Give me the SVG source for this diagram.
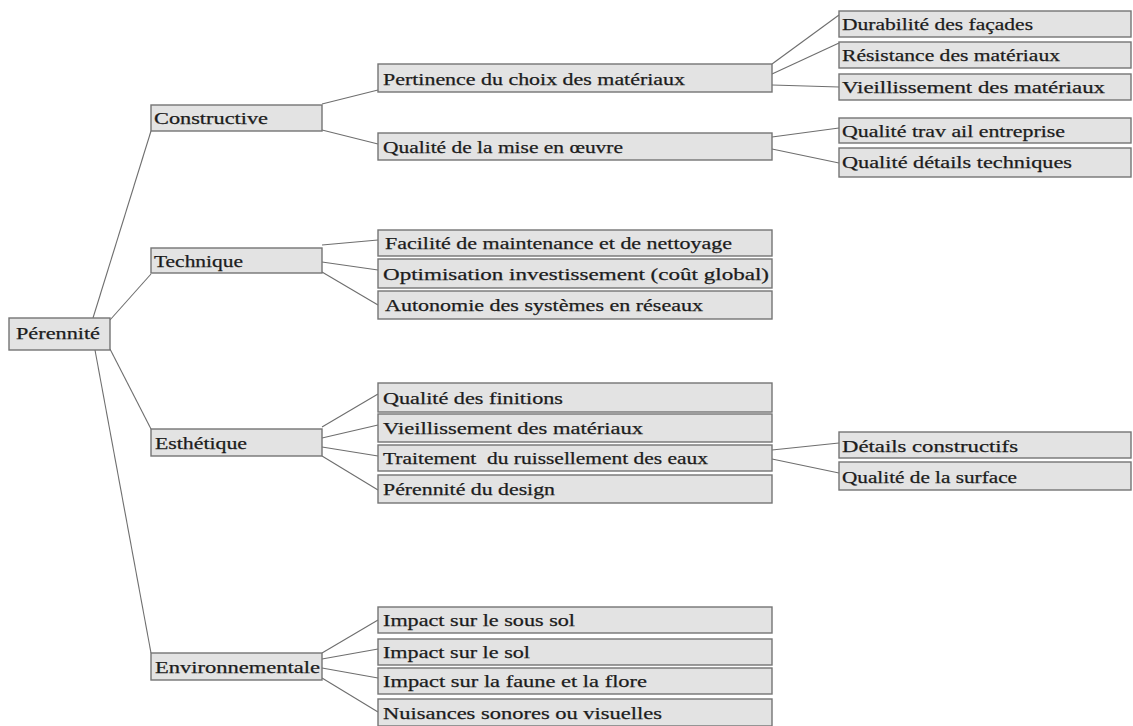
<svg xmlns="http://www.w3.org/2000/svg" width="1133" height="726" viewBox="0 0 1133 726">
<style>
.box{fill:#e3e3e3;stroke:#747474;stroke-width:1.4}
.t{font-family:"Liberation Serif","Times New Roman",serif;font-size:17px;fill:#1c1c1c;stroke:#1c1c1c;stroke-width:0.25;white-space:pre}
.c line{stroke:#6e6e6e;stroke-width:1.1}
</style>
<rect width="1133" height="726" fill="#ffffff"/>
<g class="c" id="connectors">
<line x1="93" y1="318" x2="151" y2="131"/>
<line x1="110" y1="320" x2="151" y2="274"/>
<line x1="110" y1="349" x2="151" y2="429"/>
<line x1="95" y1="350" x2="151" y2="653"/>
<line x1="322" y1="104" x2="378" y2="90"/>
<line x1="322" y1="130" x2="378" y2="144"/>
<line x1="322" y1="245" x2="378" y2="240"/>
<line x1="322" y1="262" x2="378" y2="270"/>
<line x1="322" y1="272" x2="378" y2="305"/>
<line x1="322" y1="427" x2="378" y2="394"/>
<line x1="322" y1="438" x2="378" y2="425"/>
<line x1="322" y1="447" x2="378" y2="456"/>
<line x1="322" y1="456" x2="378" y2="490"/>
<line x1="322" y1="653" x2="378" y2="620"/>
<line x1="322" y1="659" x2="378" y2="649"/>
<line x1="322" y1="668" x2="378" y2="678"/>
<line x1="322" y1="678" x2="378" y2="712"/>
<line x1="772" y1="64" x2="839" y2="15"/>
<line x1="772" y1="74" x2="839" y2="43"/>
<line x1="772" y1="85" x2="839" y2="87"/>
<line x1="772" y1="137" x2="839" y2="128"/>
<line x1="772" y1="149" x2="839" y2="163"/>
<line x1="772" y1="450" x2="839" y2="443"/>
<line x1="772" y1="459" x2="839" y2="473"/>
</g>
<g id="n-perennite"><rect class="box" x="9" y="318" width="101" height="32"/><text class="t" x="16" y="339" textLength="84" lengthAdjust="spacingAndGlyphs">Pérennité</text></g>
<g id="n-constructive"><rect class="box" x="151" y="105" width="171" height="26"/><text class="t" x="154" y="124" textLength="114" lengthAdjust="spacingAndGlyphs">Constructive</text></g>
<g id="n-technique"><rect class="box" x="151" y="248" width="171" height="25"/><text class="t" x="154" y="267" textLength="89" lengthAdjust="spacingAndGlyphs">Technique</text></g>
<g id="n-esthetique"><rect class="box" x="151" y="429" width="171" height="27"/><text class="t" x="155" y="449" textLength="92" lengthAdjust="spacingAndGlyphs">Esthétique</text></g>
<g id="n-environnementale"><rect class="box" x="151" y="653" width="171" height="27"/><text class="t" x="155" y="673" textLength="165" lengthAdjust="spacingAndGlyphs">Environnementale</text></g>
<g id="n-pertinence"><rect class="box" x="378" y="64" width="394" height="28"/><text class="t" x="383" y="85" textLength="302" lengthAdjust="spacingAndGlyphs">Pertinence du choix des matériaux</text></g>
<g id="n-miseenoeuvre"><rect class="box" x="378" y="133" width="394" height="27"/><text class="t" x="383" y="153" textLength="240" lengthAdjust="spacingAndGlyphs">Qualité de la mise en œuvre</text></g>
<g id="n-facilite"><rect class="box" x="378" y="230" width="394" height="26"/><text class="t" x="385" y="249" textLength="347" lengthAdjust="spacingAndGlyphs">Facilité de maintenance et de nettoyage</text></g>
<g id="n-optimisation"><rect class="box" x="378" y="259" width="394" height="29"/><text class="t" x="383" y="280" textLength="386" lengthAdjust="spacingAndGlyphs">Optimisation investissement (coût global)</text></g>
<g id="n-autonomie"><rect class="box" x="378" y="291" width="394" height="28"/><text class="t" x="385" y="311" textLength="318" lengthAdjust="spacingAndGlyphs">Autonomie des systèmes en réseaux</text></g>
<g id="n-finitions"><rect class="box" x="378" y="383" width="394" height="29"/><text class="t" x="383" y="404" textLength="180" lengthAdjust="spacingAndGlyphs">Qualité des finitions</text></g>
<g id="n-vieil2"><rect class="box" x="378" y="414" width="394" height="28"/><text class="t" x="383" y="434" textLength="260" lengthAdjust="spacingAndGlyphs">Vieillissement des matériaux</text></g>
<g id="n-traitement"><rect class="box" x="378" y="445" width="394" height="26"/><text class="t" x="383" y="464" textLength="325" lengthAdjust="spacingAndGlyphs">Traitement  du ruissellement des eaux</text></g>
<g id="n-design"><rect class="box" x="378" y="475" width="394" height="28"/><text class="t" x="383" y="495" textLength="172" lengthAdjust="spacingAndGlyphs">Pérennité du design</text></g>
<g id="n-soussol"><rect class="box" x="378" y="607" width="394" height="26"/><text class="t" x="383" y="626" textLength="192" lengthAdjust="spacingAndGlyphs">Impact sur le sous sol</text></g>
<g id="n-sol"><rect class="box" x="378" y="639" width="394" height="26"/><text class="t" x="383" y="658" textLength="147" lengthAdjust="spacingAndGlyphs">Impact sur le sol</text></g>
<g id="n-faune"><rect class="box" x="378" y="668" width="394" height="26"/><text class="t" x="383" y="687" textLength="264" lengthAdjust="spacingAndGlyphs">Impact sur la faune et la flore</text></g>
<g id="n-nuisances"><rect class="box" x="378" y="699" width="394" height="27"/><text class="t" x="383" y="719" textLength="279" lengthAdjust="spacingAndGlyphs">Nuisances sonores ou visuelles</text></g>
<g id="n-durabilite"><rect class="box" x="839" y="11" width="292" height="26"/><text class="t" x="842" y="30" textLength="191" lengthAdjust="spacingAndGlyphs">Durabilité des façades</text></g>
<g id="n-resistance"><rect class="box" x="839" y="42" width="292" height="26"/><text class="t" x="842" y="61" textLength="218" lengthAdjust="spacingAndGlyphs">Résistance des matériaux</text></g>
<g id="n-vieil1"><rect class="box" x="839" y="74" width="292" height="26"/><text class="t" x="842" y="93" textLength="263" lengthAdjust="spacingAndGlyphs">Vieillissement des matériaux</text></g>
<g id="n-travail"><rect class="box" x="839" y="118" width="292" height="25"/><text class="t" x="842" y="137" textLength="223" lengthAdjust="spacingAndGlyphs">Qualité trav ail entreprise</text></g>
<g id="n-details"><rect class="box" x="839" y="148" width="292" height="29"/><text class="t" x="842" y="168" textLength="230" lengthAdjust="spacingAndGlyphs">Qualité détails techniques</text></g>
<g id="n-detconstr"><rect class="box" x="839" y="432" width="292" height="26"/><text class="t" x="842" y="452" textLength="176" lengthAdjust="spacingAndGlyphs">Détails constructifs</text></g>
<g id="n-surface"><rect class="box" x="839" y="462" width="292" height="28"/><text class="t" x="842" y="483" textLength="175" lengthAdjust="spacingAndGlyphs">Qualité de la surface</text></g>
</svg>
